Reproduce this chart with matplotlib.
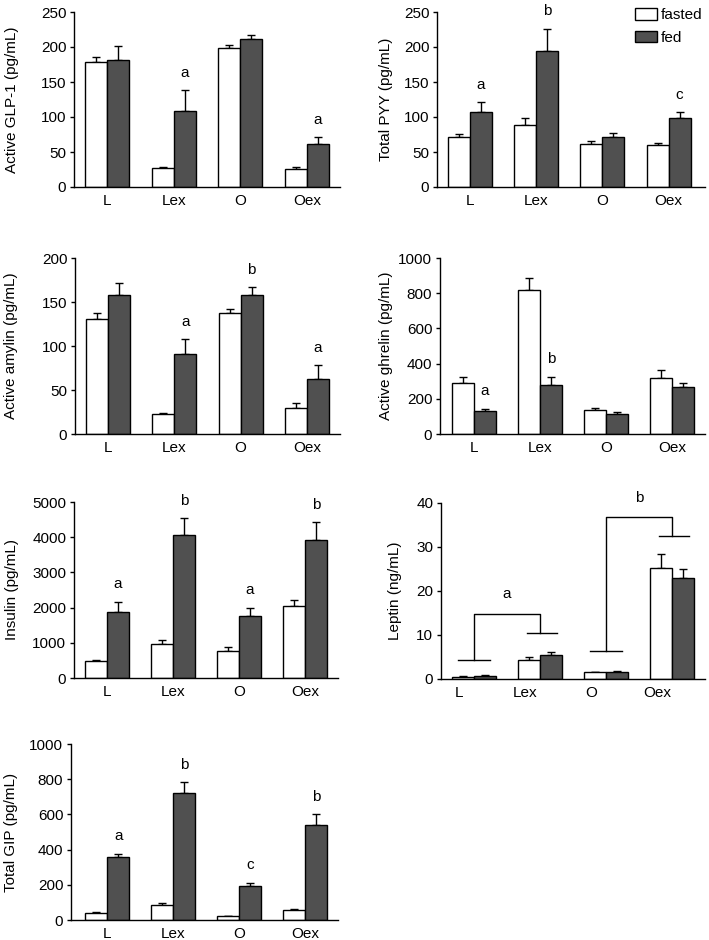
import matplotlib
matplotlib.use("Agg")
import matplotlib.pyplot as plt
from matplotlib.patches import Patch
import numpy as np

plt.rcParams['font.family'] = ['Liberation Sans', 'DejaVu Sans']
FS = 11
plt.rcParams['font.size'] = FS

groups = ["L", "Lex", "O", "Oex"]

glp1_fasted = [178, 27, 199, 26]
glp1_fasted_err = [8, 1.5, 4.5, 2]
glp1_fed = [181, 109, 211, 62]
glp1_fed_err = [20, 29, 6, 9]
glp1_letters = ["", "a", "", "a"]

pyy_fasted = [71, 88, 62, 60]
pyy_fasted_err = [5, 11, 3.5, 3]
pyy_fed = [107, 195, 72, 98]
pyy_fed_err = [14, 31, 5, 9]
pyy_letters = ["a", "b", "", "c"]

amylin_fasted = [131, 23, 137, 30]
amylin_fasted_err = [6, 1, 5, 5]
amylin_fed = [158, 91, 158, 62]
amylin_fed_err = [14, 17, 9, 16]
amylin_letters = ["", "a", "b", "a"]

ghrelin_fasted = [289, 817, 135, 319]
ghrelin_fasted_err = [36, 68, 15, 46]
ghrelin_fed = [129, 278, 116, 268]
ghrelin_fed_err = [15, 47, 11, 23]
ghrelin_letters = ["a", "b", "", ""]

insulin_fasted = [483, 966, 767, 2036]
insulin_fasted_err = [38, 104, 113, 189]
insulin_fed = [1875, 4072, 1752, 3911]
insulin_fed_err = [293, 473, 246, 521]
insulin_letters = ["a", "b", "a", "b"]

leptin_fasted = [0.53, 4.3, 1.6, 25.15]
leptin_fasted_err = [0.1, 0.6, 0.1, 3.25]
leptin_fed = [0.76, 5.4, 1.67, 22.95]
leptin_fed_err = [0.15, 0.75, 0.1, 2.0]
# bracket levels: (left group, right group, left foot, right foot, top, letter)
leptin_brackets = [(0, 1, 4.4, 10.4, 14.8, "a"), (2, 3, 6.3, 32.4, 36.8, "b")]

gip_fasted = [40, 85, 21, 55]
gip_fasted_err = [5, 10, 3, 6]
gip_fed = [358, 722, 195, 542]
gip_fed_err = [19, 60, 17, 60]
gip_letters = ["a", "b", "c", "b"]

W, H = 709, 940
fig = plt.figure(figsize=(W / 100, H / 100), dpi=100)

FED_COLOR = "#505050"
BW = 0.333


def add_ax(left, right, top, bottom):
    return fig.add_axes([left / W, 1 - bottom / H, (right - left) / W, (bottom - top) / H])


def panel(ax, fasted, ferr, fed, federr, ylim, yticks, ylabel, label_x_px, left_px, right_px,
          letters=None, xlim=(-0.5, 3.5), xtick_offset=0.0):
    x = np.arange(len(groups))
    ax.bar(x - BW / 2, fasted, BW, color="white", edgecolor="black", linewidth=1.0, zorder=2)
    ax.bar(x + BW / 2, fed, BW, color=FED_COLOR, edgecolor="black", linewidth=1.0, zorder=2)
    ax.errorbar(x - BW / 2, fasted, yerr=[np.zeros(len(fasted)), ferr], fmt="none",
                ecolor="black", elinewidth=1.0, capsize=3.2, capthick=1.0, zorder=1)
    ax.errorbar(x + BW / 2, fed, yerr=[np.zeros(len(fed)), federr], fmt="none",
                ecolor="black", elinewidth=1.0, capsize=3.2, capthick=1.0, zorder=1)
    if letters:
        for xi, v, e, t in zip(x, fed, federr, letters):
            if t:
                ax.annotate(t, (xi + BW / 2, v + e), xytext=(0, 12.5), textcoords="offset points",
                            ha="center", va="center", fontsize=FS)
    ax.set_xlim(*xlim)
    ax.set_ylim(*ylim)
    ax.set_yticks(yticks)
    ax.set_xticks(x + xtick_offset)
    ax.set_xticklabels(groups)
    for s in ["top", "right"]:
        ax.spines[s].set_visible(False)
    for s in ["left", "bottom"]:
        ax.spines[s].set_linewidth(1.0)
    ax.tick_params(axis="x", length=0, pad=5, labelsize=FS)
    ax.tick_params(axis="y", length=3, width=1.0, pad=2.5, direction="out", labelsize=FS)
    ax.set_ylabel(ylabel, fontsize=FS)
    ax.yaxis.set_label_coords((label_x_px - left_px) / (right_px - left_px), 0.5)


ax1 = add_ax(74, 340, 12, 187)
panel(ax1, glp1_fasted, glp1_fasted_err, glp1_fed, glp1_fed_err, (0, 250), range(0, 251, 50),
      "Active GLP-1 (pg/mL)", 19, 74, 340, glp1_letters)

ax2 = add_ax(437, 705, 12, 187)
panel(ax2, pyy_fasted, pyy_fasted_err, pyy_fed, pyy_fed_err, (0, 250), range(0, 251, 50),
      "Total PYY (pg/mL)", 393, 437, 705, pyy_letters, xlim=(-0.5, 3.55))
leg = ax2.legend(handles=[Patch(facecolor="white", edgecolor="black", linewidth=1.0, label="fasted"),
                          Patch(facecolor=FED_COLOR, edgecolor="black", linewidth=1.0, label="fed")],
                 loc="upper left", bbox_to_anchor=((635 - 437) / 268, (187 - 8) / 175), frameon=False,
                 handlelength=1.45, handleheight=0.8, handletextpad=0.25, labelspacing=0.55,
                 fontsize=FS, borderaxespad=0, borderpad=0)

ax3 = add_ax(75, 340, 258, 434)
panel(ax3, amylin_fasted, amylin_fasted_err, amylin_fed, amylin_fed_err, (0, 200), range(0, 201, 50),
      "Active amylin (pg/mL)", 18, 75, 340, amylin_letters)

ax4 = add_ax(440, 705, 258, 434)
panel(ax4, ghrelin_fasted, ghrelin_fasted_err, ghrelin_fed, ghrelin_fed_err, (0, 1000), range(0, 1001, 200),
      "Active ghrelin (pg/mL)", 393, 440, 705, ghrelin_letters, xlim=(-0.515, 3.5))

ax5 = add_ax(74, 338, 502, 678)
panel(ax5, insulin_fasted, insulin_fasted_err, insulin_fed, insulin_fed_err, (0, 5000), range(0, 5001, 1000),
      "Insulin (pg/mL)", 19, 74, 338, insulin_letters)

ax6 = add_ax(441, 705, 503, 679)
panel(ax6, leptin_fasted, leptin_fasted_err, leptin_fed, leptin_fed_err, (0, 40), range(0, 41, 10),
      "Leptin (ng/mL)", 402, 441, 705, None, xtick_offset=-0.22)
for g1, g2, f1, f2, top, t in leptin_brackets:
    ax6.plot([g1 - 0.24, g1 + 0.24], [f1, f1], color="black", lw=1.0)
    ax6.plot([g1, g1, g2, g2], [f1, top, top, f2], color="black", lw=1.0)
    ax6.plot([g2 - 0.2, g2 + 0.26], [f2, f2], color="black", lw=1.0)
    ax6.annotate(t, ((g1 + g2) / 2, top), xytext=(0, 14), textcoords="offset points",
                 ha="center", va="center", fontsize=FS)

ax7 = add_ax(71, 338, 744, 920)
panel(ax7, gip_fasted, gip_fasted_err, gip_fed, gip_fed_err, (0, 1000), range(0, 1001, 200),
      "Total GIP (pg/mL)", 18, 71, 338, gip_letters, xlim=(-0.55, 3.5))

fig.savefig("out.png", dpi=100)
